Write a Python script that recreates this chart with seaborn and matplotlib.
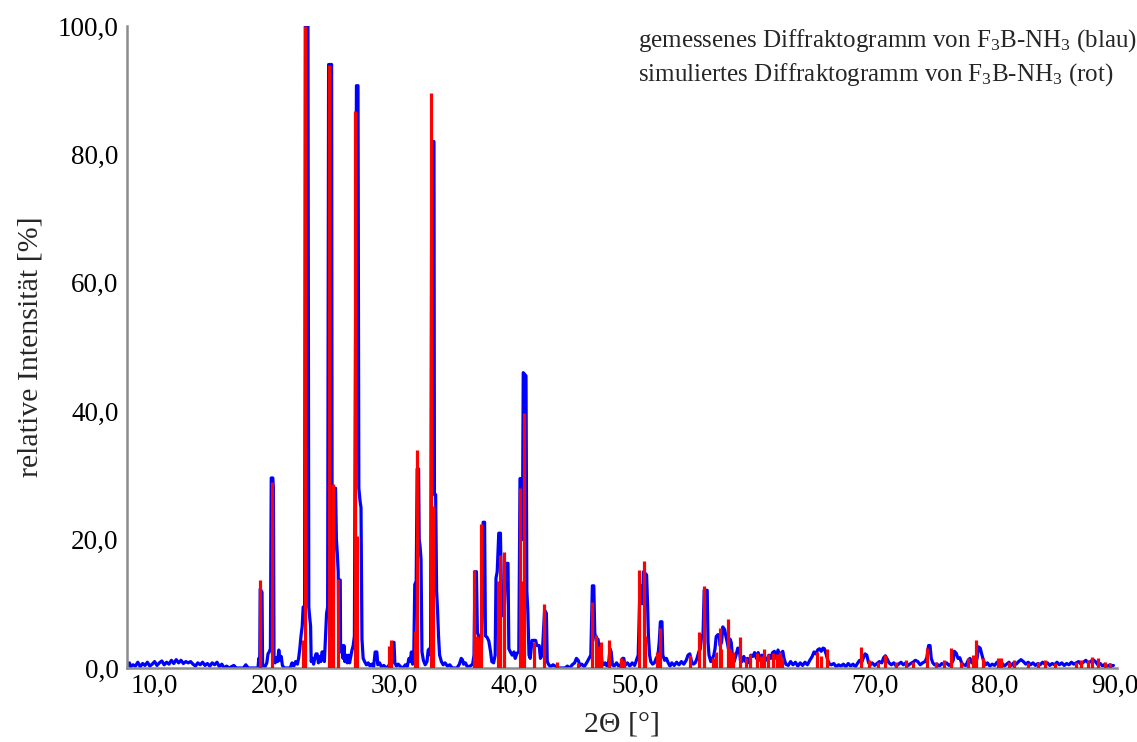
import matplotlib
matplotlib.use("Agg")
import matplotlib.pyplot as plt
import seaborn as sns
import pandas as pd
from matplotlib.ticker import FuncFormatter, MultipleLocator

# ---------------- data ----------------
# measured diffractogram (blue): (2theta, relative intensity)
measured = [
    (7.7,0.3),(7.9,0.8),(8.0,0.2),(8.2,0.5),(8.4,0.3),(8.6,0.9),(8.8,0.2),(9.0,0.7),(9.2,0.4),(9.4,0.9),
    (9.6,0.3),(9.8,0.6),(10.0,1.0),(10.2,0.4),(10.4,0.8),(10.6,1.1),(10.8,0.5),(11.0,0.9),(11.2,0.6),(11.4,1.2),
    (11.6,0.7),(11.8,1.3),(12.0,0.8),(12.2,1.2),(12.4,0.7),(12.6,1.0),(12.8,0.8),(13.0,1.0),(13.2,0.6),(13.4,0.3),
    (13.6,0.8),(13.8,0.5),(14.0,0.9),(14.2,0.4),(14.4,0.7),(14.6,0.3),(14.8,0.8),(15.0,0.5),(15.2,0.9),(15.4,0.2),
    (15.6,0.6),(15.8,0.0),(16.0,0.3),(16.2,0.0),(16.6,0.4),(16.8,0.0),(17.4,0.0),(17.6,0.5),(17.8,0.0),(18.62,0.0),
    (18.68,1.5),(18.76,1.0),(18.8,12.3),(18.95,11.8),(19.0,0.3),(19.2,0.2),(19.35,0.8),(19.45,2.2),(19.55,2.5),(19.65,3.0),
    (19.72,29.6),(19.85,29.6),(19.9,28.0),(19.95,1.5),(20.05,0.8),(20.15,1.6),(20.25,1.0),(20.35,2.8),(20.45,1.2),(20.55,1.8),
    (20.65,0.4),(20.8,0.0),(21.3,0.0),(21.45,0.8),(21.6,0.3),(21.75,1.0),(21.9,0.6),(22.0,1.5),(22.1,3.0),(22.2,5.0),
    (22.3,6.5),(22.38,9.5),(22.5,9.5),(22.56,100),(22.78,100),(22.85,9.5),(22.92,8.0),(23.0,6.5),(23.05,1.0),(23.15,1.5),
    (23.25,0.6),(23.35,1.5),(23.45,2.2),(23.55,2.2),(23.65,0.8),(23.75,1.8),(23.85,1.0),(23.95,2.5),(24.05,2.5),(24.15,1.0),
    (24.25,5.0),(24.33,8.5),(24.42,9.5),(24.5,94),(24.75,94),(24.8,5.0),(24.88,2.0),(24.95,28),(25.08,28),(25.15,20),
    (25.22,18),(25.3,15),(25.35,3.0),(25.38,13.7),(25.47,13.7),(25.5,2.5),(25.6,3.5),(25.7,1.5),(25.78,3.5),(25.85,1.0),
    (25.95,2.0),(26.05,0.8),(26.15,2.0),(26.25,0.8),(26.35,1.8),(26.45,2.8),(26.55,3.5),(26.65,5.0),(26.82,90.7),(26.95,90.7),
    (27.02,28),(27.12,26),(27.2,25),(27.28,4.5),(27.38,1.5),(27.5,1.0),(27.65,0.5),(27.8,0.8),(27.95,0.3),(28.1,0.6),
    (28.25,0.2),(28.38,2.5),(28.52,2.5),(28.6,0.5),(28.75,0.8),(28.9,0.2),(29.1,0.4),(29.3,0.0),(29.5,0.3),(29.65,1.0),
    (29.75,0.6),(29.85,4.0),(29.95,4.0),(30.02,0.8),(30.15,0.3),(30.3,0.6),(30.5,0.2),(30.7,0.0),(30.9,0.5),(31.05,0.2),
    (31.2,1.5),(31.3,1.0),(31.4,2.5),(31.5,0.6),(31.6,2.3),(31.68,13),(31.8,13.5),(31.88,31),(32.0,31),(32.05,20),
    (32.12,19),(32.2,17),(32.28,2.5),(32.4,1.2),(32.55,0.5),(32.7,1.0),(32.8,2.8),(32.9,3.0),(33.0,2.0),(33.1,82),
    (33.28,82),(33.32,27),(33.42,27),(33.5,12),(33.58,9),(33.66,5),(33.75,2.0),(33.9,1.0),(34.05,0.5),(34.2,0.8),
    (34.4,0.3),(34.6,0.5),(34.8,0.0),(35.2,0.0),(35.4,0.6),(35.55,1.5),(35.65,1.3),(35.75,0.6),(35.9,0.8),(36.05,0.2),
    (36.3,0.3),(36.5,0.6),(36.62,2.0),(36.7,15),(36.82,15),(36.9,5.5),(37.0,5.0),(37.1,4.5),(37.25,4.0),(37.38,22.7),
    (37.5,22.7),(37.57,5.0),(37.7,4.8),(37.85,4.2),(38.0,2.5),(38.1,1.0),(38.25,0.8),(38.38,2.0),(38.45,14),(38.55,15),
    (38.68,21),(38.82,21),(38.9,12),(39.0,9),(39.12,8),(39.2,12),(39.3,16.3),(39.45,16.3),(39.52,3.0),(39.65,2.5),
    (39.8,2.0),(39.95,2.5),(40.05,1.5),(40.2,2.3),(40.35,2.5),(40.45,29.5),(40.58,29.5),(40.65,20),(40.72,46),(40.95,45.5),
    (41.02,12),(41.1,9),(41.2,2.0),(41.3,1.5),(41.45,4.3),(41.75,4.3),(41.85,3.5),(42.05,3.5),(42.15,1.5),(42.3,2.0),
    (42.5,9.0),(42.65,8.5),(42.72,1.0),(42.85,0.5),(43.0,0.2),(43.2,0.5),(43.45,0.2),(43.7,0.0),(44.2,0.0),(44.4,0.3),
    (44.6,0.0),(44.8,0.5),(45.0,0.8),(45.15,1.5),(45.3,1.2),(45.45,0.4),(45.6,0.6),(45.8,0.2),(46.0,0.8),(46.2,1.5),
    (46.35,2.0),(46.48,12.8),(46.6,12.8),(46.68,5.5),(46.8,4.2),(46.95,4.5),(47.05,3.0),(47.15,3.5),(47.28,1.0),(47.4,0.5),
    (47.55,0.8),(47.7,0.3),(47.85,1.0),(47.95,3.0),(48.05,2.5),(48.15,0.5),(48.3,0.3),(48.5,0.8),(48.7,0.2),(48.85,0.5),
    (49.0,1.5),(49.1,1.5),(49.2,0.4),(49.4,0.8),(49.6,0.3),(49.8,0.8),(50.0,0.4),(50.15,1.2),(50.3,2.0),(50.45,12.8),
    (50.58,12.8),(50.66,10),(50.75,15),(51.0,14.5),(51.08,10),(51.15,5.0),(51.25,2.0),(51.35,1.0),(51.5,0.6),(51.65,0.8),
    (51.8,1.5),(51.95,2.0),(52.05,4.0),(52.15,7.2),(52.28,7.2),(52.35,2.0),(52.5,1.2),(52.65,1.5),(52.8,0.8),(52.95,0.3),
    (53.1,0.8),(53.3,0.4),(53.5,0.9),(53.7,0.5),(53.9,1.0),(54.1,0.6),(54.3,1.2),(54.45,2.0),(54.6,2.2),(54.75,1.0),
    (54.9,0.6),(55.05,0.8),(55.2,1.5),(55.35,2.5),(55.48,3.0),(55.58,5.0),(55.7,5.0),(55.8,12.1),(56.05,12.1),(56.12,4.0),
    (56.2,2.0),(56.35,1.0),(56.5,1.5),(56.6,2.0),(56.7,3.0),(56.8,4.9),(56.95,5.2),(57.05,5.0),(57.12,3.5),(57.25,4.0),
    (57.35,6.4),(57.5,6.0),(57.6,5.0),(57.72,4.0),(57.82,3.0),(57.95,4.5),(58.05,4.0),(58.15,2.0),(58.3,1.0),(58.45,2.0),
    (58.6,3.1),(58.72,3.0),(58.82,1.2),(58.95,1.0),(59.1,1.8),(59.25,1.0),(59.4,1.5),(59.55,0.8),(59.7,2.0),(59.85,1.8),
    (60.0,2.4),(60.15,1.5),(60.3,2.4),(60.45,1.2),(60.6,2.0),(60.75,1.0),(60.9,1.6),(61.05,1.2),(61.2,2.0),(61.35,1.5),
    (61.5,2.4),(61.65,2.6),(61.8,1.5),(61.95,2.8),(62.1,1.8),(62.25,2.4),(62.35,2.6),(62.45,1.5),(62.6,0.6),(62.8,0.4),
    (63.0,1.0),(63.2,0.5),(63.4,0.9),(63.6,0.3),(63.8,0.8),(64.0,0.4),(64.2,0.9),(64.4,0.5),(64.6,1.2),(64.8,1.8),
    (64.95,2.5),(65.1,2.2),(65.25,2.8),(65.4,3.0),(65.55,2.6),(65.7,3.1),(65.82,3.0),(65.95,2.2),(66.1,1.2),(66.25,0.6),
    (66.4,0.5),(66.6,0.7),(66.8,0.2),(67.0,0.5),(67.2,0.3),(67.4,0.6),(67.6,0.2),(67.8,0.7),(68.0,0.3),(68.2,0.6),
    (68.4,0.2),(68.6,0.8),(68.75,1.2),(68.9,0.8),(69.05,1.5),(69.2,2.2),(69.35,2.0),(69.5,0.8),(69.65,0.5),(69.8,0.8),
    (70.0,0.4),(70.2,0.7),(70.4,1.0),(70.6,0.8),(70.75,1.6),(70.9,1.9),(71.05,1.4),(71.2,0.8),(71.4,0.5),(71.6,0.8),
    (71.8,0.3),(72.0,0.6),(72.2,0.9),(72.4,0.5),(72.6,0.8),(72.8,0.4),(73.0,0.7),(73.2,0.9),(73.4,1.2),(73.6,1.0),
    (73.8,0.5),(74.0,0.8),(74.2,1.0),(74.35,1.6),(74.5,3.5),(74.62,3.5),(74.72,1.5),(74.85,0.8),(75.0,0.5),(75.2,0.6),
    (75.4,0.3),(75.6,0.7),(75.8,0.5),(76.0,0.8),(76.2,0.4),(76.4,0.7),(76.55,1.2),(76.65,2.6),(76.8,2.3),(76.95,1.5),
    (77.1,1.6),(77.25,0.8),(77.4,0.5),(77.6,0.4),(77.8,1.2),(77.95,1.5),(78.1,0.8),(78.25,1.0),(78.4,0.6),(78.55,1.6),
    (78.65,3.3),(78.8,3.1),(78.95,2.0),(79.1,1.0),(79.25,0.5),(79.4,0.8),(79.6,0.3),(79.8,0.6),(80.0,0.4),(80.2,0.9),
    (80.4,0.5),(80.6,0.8),(80.8,0.3),(81.0,0.6),(81.2,0.9),(81.4,0.4),(81.6,0.8),(81.8,0.6),(82.0,1.0),(82.2,1.3),
    (82.4,1.0),(82.6,0.6),(82.8,0.9),(83.0,0.5),(83.2,0.8),(83.4,0.4),(83.6,0.7),(83.8,0.5),(84.0,0.9),(84.2,0.6),
    (84.4,0.8),(84.6,0.4),(84.8,0.7),(85.0,0.5),(85.2,0.9),(85.4,0.5),(85.6,0.8),(85.8,0.4),(86.0,0.7),(86.2,0.5),
    (86.4,0.9),(86.6,0.6),(86.8,0.8),(87.0,1.0),(87.2,0.6),(87.4,0.9),(87.6,1.2),(87.8,0.8),(88.0,1.0),(88.2,1.3),
    (88.4,1.0),(88.6,0.5),(88.8,0.7),(89.0,0.3),(89.2,0.6),(89.4,0.2),(89.6,0.5),(89.8,0.3),(89.9,0.4),
]

# simulated diffractogram (red sticks)
sim_2theta = [18.75, 19.75, 22.4, 22.56, 24.53, 24.78, 24.9, 25.28, 26.72, 26.9,
              29.55, 29.7, 31.72, 31.9, 33.05, 33.2, 36.58, 36.85, 37.0, 37.22,
              38.62, 38.75, 39.1, 40.42, 40.64, 40.78, 41.58, 42.42, 43.5, 45.3,
              46.44, 46.75, 47.0, 47.2, 47.9, 48.9, 49.1, 50.35, 50.75, 50.9,
              51.9, 52.08, 54.6, 55.4, 55.78, 56.5, 56.75, 57.08, 57.2, 57.78,
              57.95, 58.2, 58.8, 59.3, 59.6, 60.2, 60.5, 60.75, 61.1, 61.5,
              61.9, 62.1, 62.3, 65.2, 65.5, 66.0, 68.9, 69.5, 70.3, 70.9,
              71.8, 72.6, 73.2, 74.4, 75.1, 75.8, 76.4, 77.2, 77.8, 78.2,
              78.47, 79.0, 80.3, 80.5, 81.2, 81.6, 82.8, 83.6, 84.2, 85.0,
              86.8, 87.2, 87.8, 88.1, 88.6, 89.2, 89.6]
sim_intensity = [13.7, 29.0, 4.4, 100, 94, 5.0, 28.6, 13.8, 86.7, 20.5,
                 3.4, 4.4, 5.7, 34.0, 89.5, 25.3, 15.2, 5.0, 4.4, 22.4,
                 13.5, 17.6, 18.0, 28.0, 13.5, 39.7, 4.0, 10.0, 1.0, 0.8,
                 10.3, 5.1, 3.5, 4.0, 4.4, 1.5, 1.2, 15.3, 16.7, 5.0,
                 2.5, 6.2, 2.0, 5.6, 12.8, 1.5, 2.5, 6.2, 3.0, 7.7,
                 3.0, 2.5, 4.9, 1.5, 2.2, 2.4, 1.8, 3.0, 2.2, 2.4,
                 2.2, 2.5, 1.5, 2.5, 1.8, 3.0, 3.3, 1.2, 1.0, 2.0,
                 1.0, 1.2, 1.0, 3.1, 1.0, 1.2, 3.1, 1.0, 1.5, 2.0,
                 4.4, 1.5, 1.5, 1.5, 1.0, 1.2, 0.8, 1.0, 1.2, 0.8,
                 1.0, 1.2, 1.3, 1.7, 1.5, 1.0, 0.8]

x_ticks = [10, 20, 30, 40, 50, 60, 70, 80, 90]
y_ticks = [0, 20, 40, 60, 80, 100]
legend_lines = [r"gemessenes Diffraktogramm von F$_3$B-NH$_3$ (blau)",
                r"simuliertes Diffraktogramm von F$_3$B-NH$_3$ (rot)"]

# ---------------- style ----------------
sns.set_style("white")
plt.rcParams["font.family"] = ["Liberation Serif", "DejaVu Serif"]
plt.rcParams["mathtext.fontset"] = "custom"
plt.rcParams["mathtext.rm"] = "Liberation Serif"
plt.rcParams["mathtext.it"] = "Liberation Serif:italic"

GRAY = "#8c8c8c"
fig = plt.figure(figsize=(11.37, 7.42), dpi=100)
ax = fig.add_axes([127/1137, 74/742, (1117-127)/1137, (668-26)/742])

meas_df = pd.DataFrame(measured, columns=["2theta", "intensity"])
sns.lineplot(data=meas_df, x="2theta", y="intensity", ax=ax, color="#0000ff",
             linewidth=2.3, sort=False, estimator=None, zorder=2)
ax.vlines(sim_2theta, 0, sim_intensity, colors="#ff0000", linewidth=2.3, zorder=3)

ax.set_xlim(7.7, 90.2)
ax.set_ylim(0, 100)
ax.set_xticks(x_ticks)
ax.set_yticks(y_ticks)
ax.xaxis.set_minor_locator(MultipleLocator(2))
ax.yaxis.set_minor_locator(MultipleLocator(4))
fmt = FuncFormatter(lambda v, p: f"{v:.1f}".replace(".", ","))
ax.xaxis.set_major_formatter(fmt)
ax.yaxis.set_major_formatter(fmt)

for s in ["top", "right"]:
    ax.spines[s].set_visible(False)
for s in ["left", "bottom"]:
    ax.spines[s].set_color(GRAY)
    ax.spines[s].set_linewidth(1.8)
    ax.spines[s].set_zorder(2.5)

ax.tick_params(axis="both", which="major", length=5, width=1.3, color=GRAY,
               labelsize=19.5, labelcolor="black", direction="out", pad=1)
ax.tick_params(axis="both", which="minor", length=4, width=1.1, color=GRAY, direction="out")
ax.tick_params(axis="x", which="both", length=3)

ax.set_xlabel("2Θ [°]", fontsize=21.5, labelpad=9)
ax.set_ylabel("relative Intensität [%]", fontsize=21.5, labelpad=10)

fig.text(638/1137, 1 - 47/742, legend_lines[0], fontsize=18, ha="left", va="baseline")
fig.text(638/1137, 1 - 81/742, legend_lines[1], fontsize=18, ha="left", va="baseline")

fig.savefig("out.png", dpi=100)
